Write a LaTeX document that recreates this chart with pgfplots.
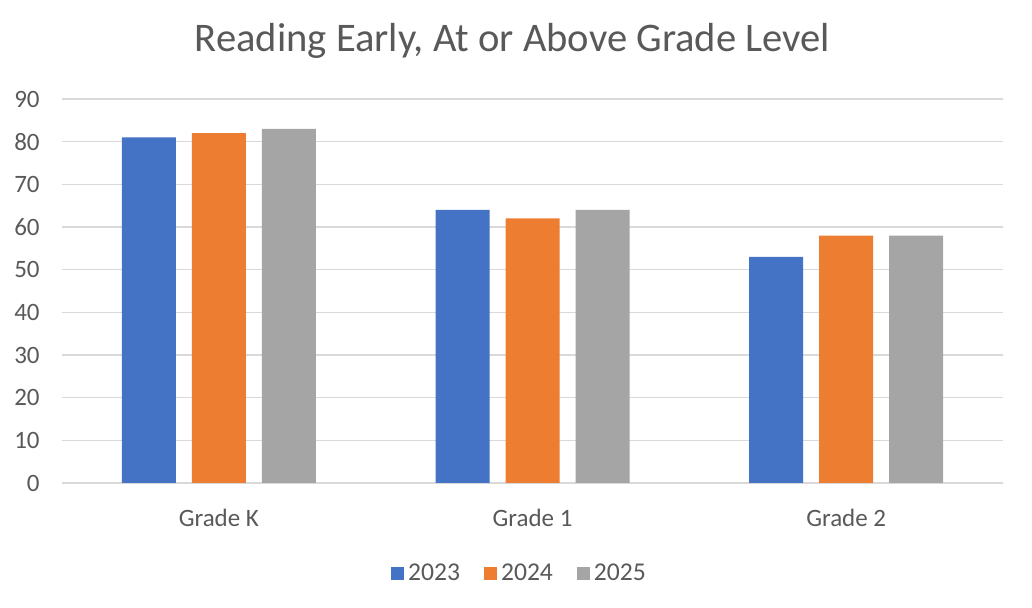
\documentclass[border=0pt]{standalone}
\usepackage{fontspec}
\setmainfont{Carlito}
\usepackage{pgfplots}
\pgfplotsset{compat=1.18}
\definecolor{c23}{HTML}{4472C4}
\definecolor{c24}{HTML}{ED7D31}
\definecolor{c25}{HTML}{A5A5A5}
\definecolor{gridgray}{HTML}{D9D9D9}
\definecolor{labelgray}{HTML}{595959}
\begin{document}
\begin{tikzpicture}
\begin{axis}[
    name=ax,
    scale only axis,
    width=470.5pt, height=192pt,
    ybar, bar width=27pt,
    ymin=0, ymax=90, ytick={0,10,...,90},
    xmin=-0.5, xmax=2.5,
    xtick={0,1,2},
    xticklabels={Grade K, Grade 1, Grade 2},
    axis x line=bottom, axis y line=left,
    x axis line style={-, draw=gridgray, line width=0.75pt},
    y axis line style={draw=none},
    ymajorgrids, grid style={gridgray, line width=0.75pt},
    major tick length=0pt,
    /pgf/number format/assume math mode=true,
    ticklabel style={font=\fontsize{12.5}{15}\selectfont, text=labelgray},
    yticklabel style={anchor=east, inner sep=0pt, xshift=-11pt},
    xticklabel style={anchor=center, yshift=-17.5pt},
    title={Reading Early, At or Above Grade Level},
    title style={at={(0.5,1)}, anchor=center, yshift=23pt, xshift=-10pt,
        font=\fontsize{20.3}{24}\selectfont, text=labelgray},
    legend columns=3,
    legend style={draw=none, at={(0.5,0)}, anchor=center, yshift=-45.5pt, xshift=-6pt,
        font=\fontsize{12.8}{15}\selectfont, text=labelgray,
        /tikz/every even column/.append style={column sep=10pt}},
    legend image code/.code={\draw[#1, draw=none] (0pt,-3.25pt) rectangle (6.5pt,3.25pt);},
]
\addplot[fill=c23, draw=none, bar shift=-35pt] coordinates {(0,81) (1,64) (2,53)};
\addplot[fill=c24, draw=none, bar shift=0pt] coordinates {(0,82) (1,62) (2,58)};
\addplot[fill=c25, draw=none, bar shift=35pt] coordinates {(0,83) (1,64) (2,58)};
\legend{2023, 2024, 2025}
\end{axis}
\pgfresetboundingbox
\path[use as bounding box] ([xshift=-31pt,yshift=-62.5pt]ax.south west) rectangle ([xshift=14.5pt,yshift=49.5pt]ax.north east);
\end{tikzpicture}
\end{document}
